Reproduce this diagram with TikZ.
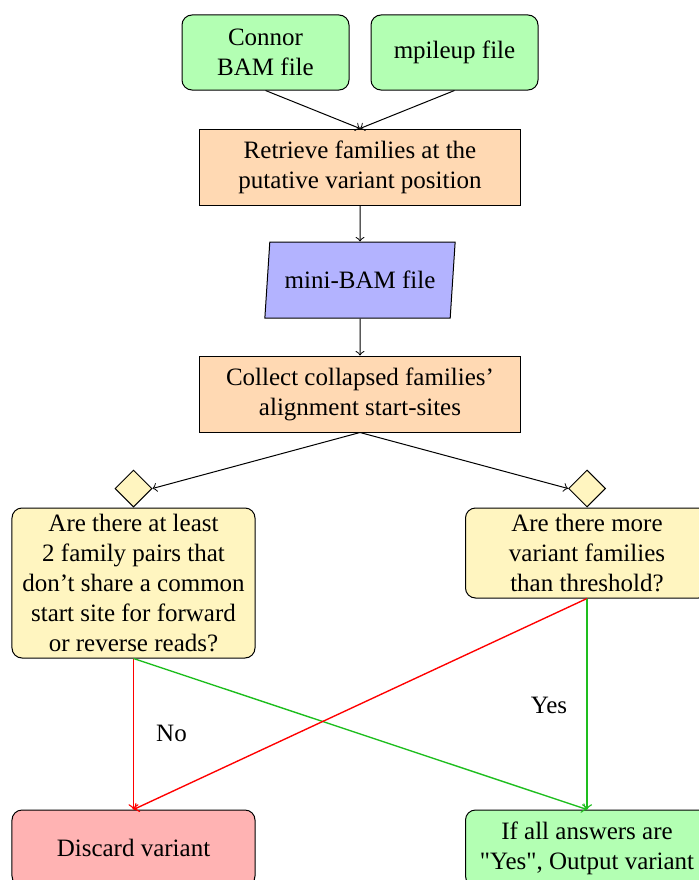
\documentclass[tikz,border=0pt]{standalone}
\usepackage{fontspec}
\setmainfont{Liberation Serif}[Ligatures=TeXOff]
\usetikzlibrary{shapes.geometric}

\definecolor{inputgreen}{RGB}{179,255,179}
\definecolor{procorange}{RGB}{255,217,179}
\definecolor{iobblue}{RGB}{179,179,255}
\definecolor{qyellow}{RGB}{255,245,192}
\definecolor{stopred}{RGB}{255,179,179}
\definecolor{yesgreen}{RGB}{30,190,30}

\tikzset{
  base/.style={draw=black, thin, text=black, align=center, inner sep=2pt,
    font=\fontsize{10}{12}\selectfont},
  startbox/.style={base, rounded corners=4pt, fill=inputgreen,
    minimum width=66.8pt, minimum height=30pt},
  process/.style={base, fill=procorange, minimum width=128pt, minimum height=30.4pt},
  iobox/.style={base, trapezium, trapezium left angle=81, trapezium right angle=99,
    trapezium stretches=true, fill=iobblue, minimum width=76.4pt, minimum height=30.4pt},
  decision/.style={draw=black, thin, diamond, fill=qyellow, inner sep=0pt,
    minimum width=14.8pt, minimum height=14.8pt},
  question/.style={base, rounded corners=4pt, fill=qyellow, minimum width=97.2pt},
  endbox/.style={base, rounded corners=4pt, minimum width=97.2pt, minimum height=30.4pt},
  flow/.style={->, thin, black},
  noflow/.style={->, line width=0.55pt, red},
  yesflow/.style={->, line width=0.55pt, yesgreen},
  lbl/.style={font=\fontsize{10}{12}\selectfont, inner sep=0pt}
}

\begin{document}
\begin{tikzpicture}[x=0.4pt, y=-0.4pt]
  \useasboundingbox (0,0) rectangle (699,880);

  % inputs
  \node[startbox] (bam) at (265.5,52.5) {Connor\\BAM file};
  \node[startbox] (mpileup) at (454.5,52.5) {mpileup file};

  % processing chain
  \node[process] (retrieve) at (360,167) {Retrieve families at the\\putative variant position};
  \node[iobox] (minibam) at (360,280) {mini-BAM file};
  \node[process] (collect) at (360,394) {Collect collapsed families’\\alignment start-sites};

  % decisions
  \node[decision] (dleft) at (133.5,488.5) {};
  \node[decision] (dright) at (587,488.5) {};
  \node[question, minimum height=60pt] (qleft) at (133.5,583)
    {Are there at least\\2 family pairs that\\don’t share a common\\start site for forward\\or reverse reads?};
  \node[question, minimum height=36pt] (qright) at (587,553)
    {Are there more\\variant families\\than threshold?};

  % outcomes
  \node[endbox, fill=stopred] (discard) at (133.5,848) {Discard variant};
  \node[endbox, fill=inputgreen] (output) at (587,848) {If all answers are\\"Yes", Output variant};

  % connectors
  \draw[flow] (bam.south) -- (retrieve.north);
  \draw[flow] (mpileup.south) -- (retrieve.north);
  \draw[flow] (retrieve) -- (minibam);
  \draw[flow] (minibam) -- (collect);
  \draw[flow] (collect.south) -- (dleft.east);
  \draw[flow] (collect.south) -- (dright.west);

  \draw[noflow] (qleft.south) -- (discard.north);
  \draw[yesflow] (qleft.south) -- (output.north);
  \draw[noflow] (qright.south) -- (discard.north);
  \draw[yesflow] (qright.south) -- (output.north);

  \node[lbl] (nolbl) at (171.5,733) {No};
  \node[lbl] (yeslbl) at (549,705) {Yes};
\end{tikzpicture}
\end{document}
